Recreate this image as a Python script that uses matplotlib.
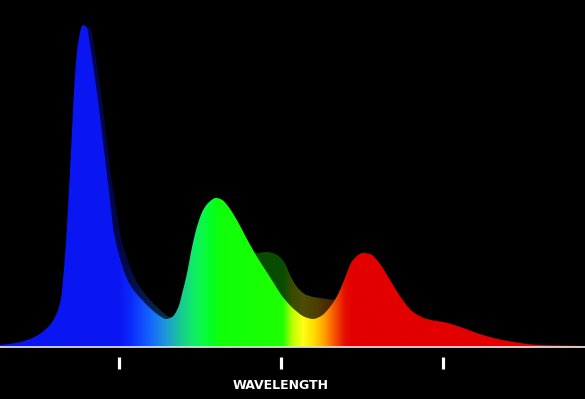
import matplotlib
matplotlib.use("Agg")
import matplotlib.pyplot as plt
import numpy as np
from matplotlib.patches import Polygon

# wavelength (nm) and relative intensity (%)
main_nm = [376.5, 385.8, 395.1, 400.0, 406.2, 410.5, 412.3, 414.2, 415.4, 416.7,
           417.9, 419.1, 420.4, 421.6, 422.8, 424.7, 427.8, 430.2, 432.1, 434.6,
           437.0, 439.5, 442.0, 444.4, 446.9, 450.6, 453.7, 456.8, 459.9, 464.2,
           469.1, 475.3, 479.0, 482.7, 486.4, 489.5, 492.0, 495.1, 498.1, 501.9,
           505.6, 509.9, 513.6, 516.7, 522.8, 529.0, 535.2, 543.2, 551.2, 558.6,
           564.8, 569.8, 574.7, 580.2, 584.6, 588.3, 594.4, 600.6, 604.9, 611.1,
           617.3, 623.5, 631.5, 640.1, 652.5, 662.4, 671.0, 679.0, 689.5, 709.9,
           737.7]
main_pct = [0.6, 1.2, 2.5, 3.7, 6.2, 9.3, 11.5, 15.2, 20.8, 28.6,
            37.9, 48.8, 61.2, 73.6, 83.9, 94.4, 100.0, 99.1, 93.8, 85.4,
            76.7, 66.5, 55.9, 45.7, 35.4, 27.6, 22.7, 19.3, 17.1, 14.6,
            12.1, 9.6, 8.7, 9.3, 12.1, 17.7, 23.0, 31.1, 37.3, 42.5,
            45.0, 46.3, 45.7, 44.1, 39.4, 33.5, 28.0, 21.7, 15.5, 11.5,
            9.3, 8.7, 9.6, 12.4, 15.8, 19.9, 27.0, 29.2, 28.9, 25.8,
            20.8, 15.8, 10.9, 8.7, 7.5, 5.9, 4.3, 3.1, 1.9, 0.6,
            0.3]

shadow_nm = [376.5, 385.8, 395.1, 400.0, 406.2, 411.1, 415.4, 417.3, 418.5, 419.8,
             421.0, 422.2, 423.5, 424.7, 426.5, 430.2, 432.7, 434.6, 437.0, 439.5,
             442.0, 444.4, 447.5, 450.6, 454.9, 458.0, 461.7, 466.0, 474.1, 480.2,
             484.6, 488.3, 492.0, 496.9, 503.1, 512.3, 521.6, 529.6, 535.8, 542.0,
             547.5, 551.9, 556.2, 560.5, 566.0, 574.1, 583.3, 589.5, 598.8, 623.5,
             648.2, 673.2, 709.9, 737.7]
shadow_pct = [0.6, 1.2, 2.5, 3.7, 6.2, 9.3, 14.9, 20.8, 28.6, 37.9,
              48.8, 61.2, 73.6, 83.9, 94.4, 99.4, 98.8, 93.8, 85.4, 76.7,
              66.5, 55.9, 45.7, 35.4, 27.6, 23.3, 19.6, 16.5, 12.1, 9.6,
              8.7, 9.0, 10.9, 14.6, 18.3, 22.7, 26.1, 28.3, 29.2, 29.5,
              28.6, 26.4, 21.7, 18.3, 16.1, 15.2, 14.6, 14.3, 13.7, 10.9,
              6.8, 3.4, 0.6, 0.3]

# colour of the spectrum along the wavelength axis
stop_nm = [376.5, 450.0, 456.8, 469.1, 478.4, 487.6, 496.9, 506.2, 512.4, 551.2,
           556.8, 563.6, 571.0, 577.2, 583.3, 589.5, 593.8, 737.7]
stop_rgb = [(10, 22, 242), (10, 22, 242), (10, 40, 250), (20, 100, 255), (30, 150, 220),
            (25, 200, 150), (15, 240, 100), (5, 255, 40), (15, 255, 10), (30, 255, 0),
            (180, 255, 0), (255, 255, 20), (255, 215, 0), (255, 155, 0), (245, 80, 0),
            (230, 12, 0), (226, 0, 0), (226, 0, 0)]

tick_nm = [450, 550, 650]
x_label = "WAVELENGTH"

XMIN, XMAX = 376.54, 737.65
YMIN, YMAX = -16.15, 107.76


def pchip(x, y, xn):
    x = np.asarray(x, float)
    y = np.asarray(y, float)
    h = np.diff(x)
    d = np.diff(y) / h
    m = np.zeros_like(y)
    for k in range(1, len(x) - 1):
        if d[k - 1] * d[k] > 0:
            w1 = 2 * h[k] + h[k - 1]
            w2 = h[k] + 2 * h[k - 1]
            m[k] = (w1 + w2) / (w1 / d[k - 1] + w2 / d[k])
    m[0], m[-1] = d[0], d[-1]
    i = np.clip(np.searchsorted(x, xn) - 1, 0, len(h) - 1)
    t = (xn - x[i]) / h[i]
    h00 = 2 * t**3 - 3 * t**2 + 1
    h10 = t**3 - 2 * t**2 + t
    h01 = -2 * t**3 + 3 * t**2
    h11 = t**3 - t**2
    return h00 * y[i] + h10 * h[i] * m[i] + h01 * y[i + 1] + h11 * h[i] * m[i + 1]


def spectrum(ax, nm, pct, shade, z):
    xs = np.linspace(nm[0], nm[-1], 2000)
    ys = pchip(nm, pct, xs)
    verts = [(xs[0], 0)] + list(zip(xs, ys)) + [(xs[-1], 0)]
    poly = Polygon(verts, closed=True, facecolor="none", edgecolor="none")
    ax.add_patch(poly)
    cx = np.linspace(XMIN, XMAX, 1200)
    rgb = np.array(stop_rgb, float) / 255.0
    cols = np.stack([np.interp(cx, stop_nm, rgb[:, c]) for c in range(3)], axis=-1)
    img = ax.imshow((cols * shade)[None, :, :], extent=[XMIN, XMAX, 0, 105],
                    aspect="auto", interpolation="bilinear", zorder=z, origin="lower")
    img.set_clip_path(poly)


fig = plt.figure(figsize=(5.85, 3.99), dpi=100, facecolor="black")
ax = fig.add_axes([0, 0, 1, 1], facecolor="black")

spectrum(ax, shadow_nm, shadow_pct, 0.3, 1)
spectrum(ax, main_nm, main_pct, 1.0, 2)

ax.axhline(0, color="#dcdcdc", lw=1.3, zorder=3)

ax.set_xlim(XMIN, XMAX)
ax.set_ylim(YMIN, YMAX)
for s in ["top", "left", "right"]:
    ax.spines[s].set_visible(False)
ax.spines["bottom"].set_position(("data", -3.1))
ax.spines["bottom"].set_visible(False)
ax.set_xticks(tick_nm)
ax.set_yticks([])
ax.tick_params(axis="x", direction="out", length=8.8, width=2.3, color="white",
               labelbottom=False)
ax.text(550, -12.1, x_label, ha="center", va="center", color="white",
        fontsize=9, fontweight="bold", family="DejaVu Sans")

fig.savefig("out.png", dpi=100, facecolor="black")
